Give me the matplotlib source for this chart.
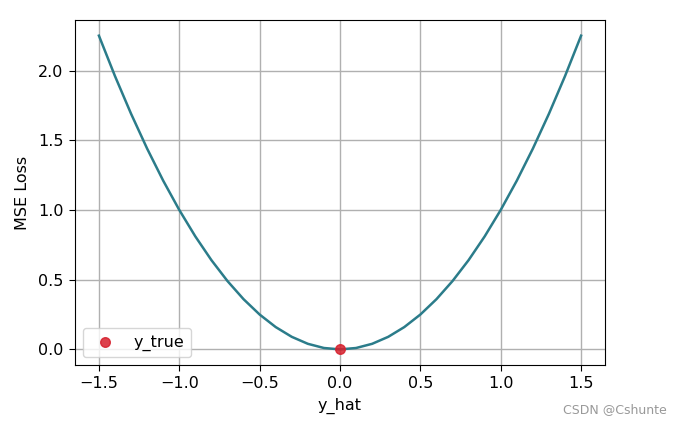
import matplotlib
matplotlib.use('Agg')
import matplotlib.pyplot as plt

# values
y_hat = [-1.5, -1.4, -1.3, -1.2, -1.1, -1.0, -0.9, -0.8, -0.7, -0.6, -0.5,
         -0.4, -0.3, -0.2, -0.1, 0.0, 0.1, 0.2, 0.3, 0.4, 0.5,
         0.6, 0.7, 0.8, 0.9, 1.0, 1.1, 1.2, 1.3, 1.4, 1.5]
mse_loss = [2.25, 1.96, 1.69, 1.44, 1.21, 1.0, 0.81, 0.64, 0.49, 0.36, 0.25,
            0.16, 0.09, 0.04, 0.01, 0.0, 0.01, 0.04, 0.09, 0.16, 0.25,
            0.36, 0.49, 0.64, 0.81, 1.0, 1.21, 1.44, 1.69, 1.96, 2.25]
y_true_x = [0.0]
y_true_y = [0.0]

plt.rcParams['font.size'] = 11.5

fig = plt.figure(figsize=(6.8, 4.25), dpi=100)
ax = fig.add_axes([0.110, 0.141, 0.780, 0.812])

ax.plot(y_hat, mse_loss, color='#2b7c8a', linewidth=1.8)
ax.scatter(y_true_x, y_true_y, color='#d61f2c', s=48, zorder=3, alpha=0.85, label='y_true')

ax.set_xlabel('y_hat', labelpad=5)
ax.set_ylabel('MSE Loss', labelpad=6)
ax.set_xticks([-1.5, -1.0, -0.5, 0.0, 0.5, 1.0, 1.5])
ax.set_yticks([0.0, 0.5, 1.0, 1.5, 2.0])
ax.tick_params(length=4.5)
ax.grid(True, color='#b0b0b0', linewidth=1.0)
ax.legend(loc='lower left')

fig.text(0.98, 0.02, 'CSDN @Cshunte', ha='right', va='bottom', color='#999999', fontsize=9)

fig.savefig('out.png', dpi=100)
